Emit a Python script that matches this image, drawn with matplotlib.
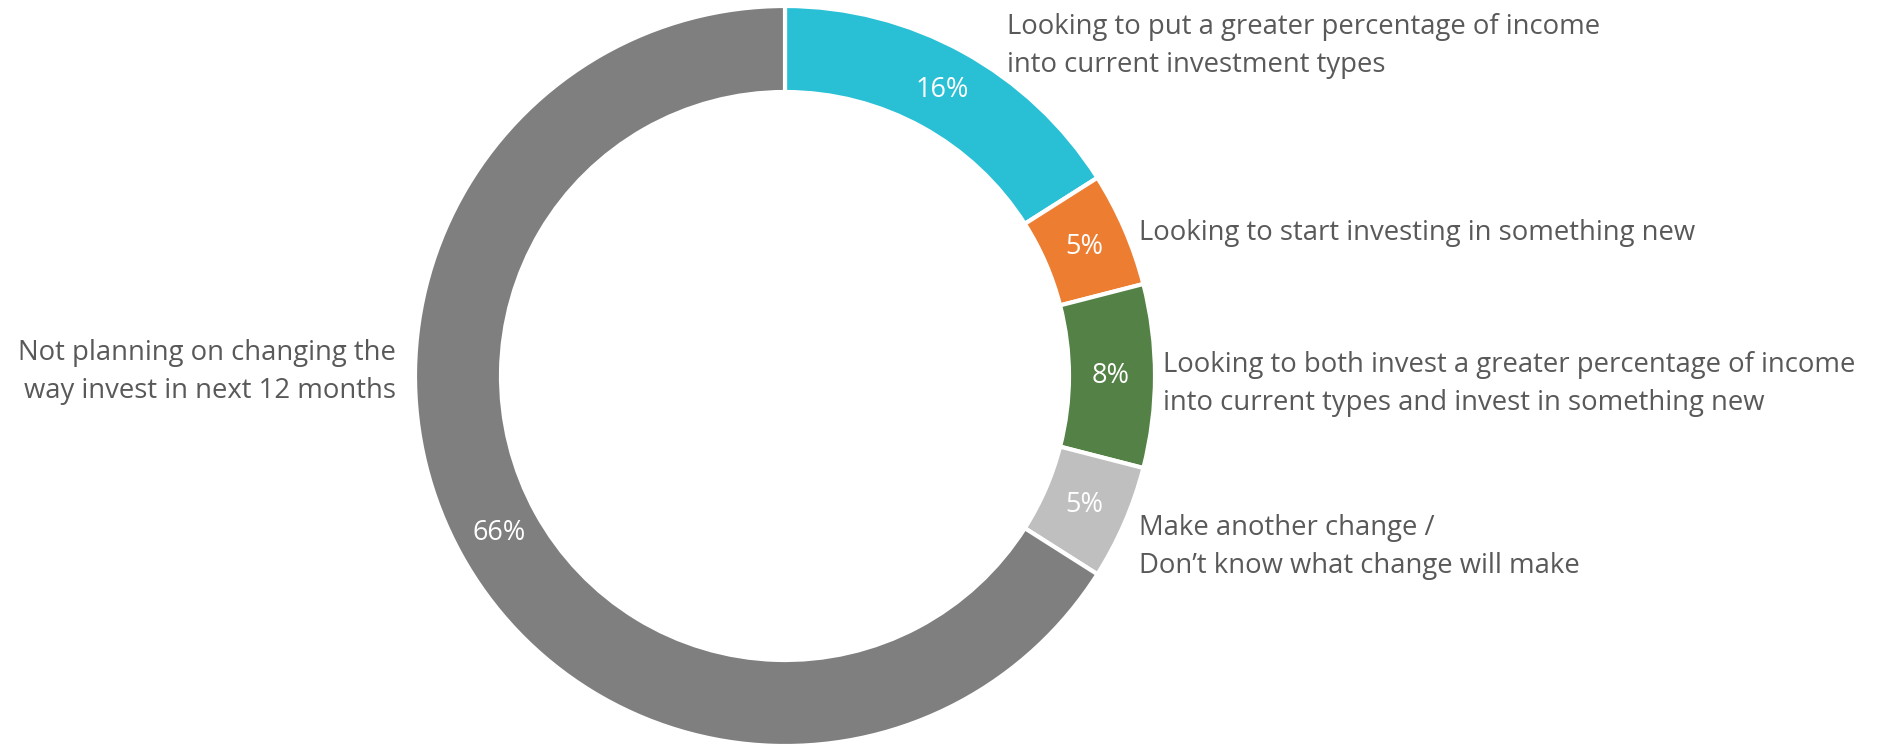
import matplotlib.pyplot as plt
import numpy as np

labels = [
    "Looking to put a greater percentage of income\ninto current investment types",
    "Looking to start investing in something new",
    "Looking to both invest a greater percentage of income\ninto current types and invest in something new",
    "Make another change /\nDon\u2019t know what change will make",
    "Not planning on changing the\nway invest in next 12 months",
]
values = [16, 5, 8, 5, 66]
colors = ["#29C0D6", "#ED7D31", "#548146", "#BFBFBF", "#7F7F7F"]

# label anchor in pixels (x, y from top), alignment
label_pos = [(1007, 46, "left"), (1139, 233, "left"), (1163, 384, "left"),
             (1139, 547, "left"), (396, 372, "right")]

W, H = 1880, 751
fig = plt.figure(figsize=(W / 100, H / 100), dpi=100)
ax = fig.add_axes([0, 0, 1, 1])

cx, cy, R = 785, H - 376, 370
wedges, texts = ax.pie(values, colors=colors, startangle=90, counterclock=False,
                       center=(cx, cy), radius=R,
                       wedgeprops=dict(width=86, edgecolor="white", linewidth=3),
                       frame=True)
ax.set_xlim(0, W)
ax.set_ylim(0, H)
ax.set_aspect("equal")
ax.axis("off")

for w, v in zip(wedges, values):
    ang = np.deg2rad((w.theta1 + w.theta2) / 2)
    r = R - 44
    ax.text(cx + r * np.cos(ang), cy + r * np.sin(ang), f"{v}%", color="white",
            ha="center", va="center", fontsize=19.5, family="Open Sans")

for lab, (x, y, ha) in zip(labels, label_pos):
    ax.text(x, H - y, lab, ha=ha, va="center", color="#595959", fontsize=19.8,
            family="Open Sans", linespacing=1.5, multialignment=ha)

fig.savefig("out.png", dpi=100, facecolor="white")
